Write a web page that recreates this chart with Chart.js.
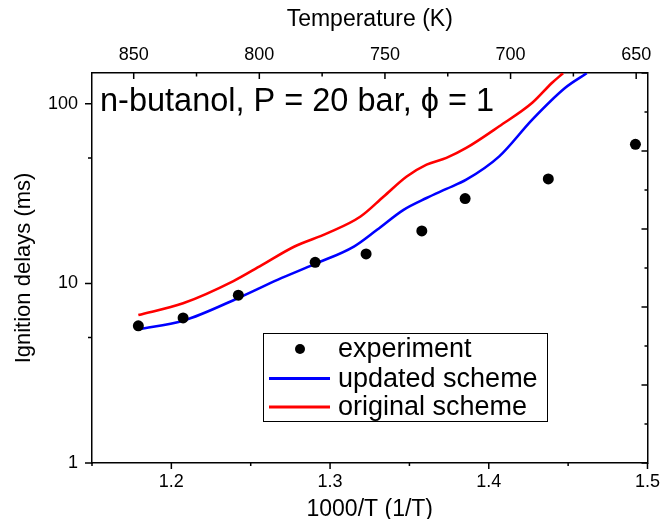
<!DOCTYPE html>
<html>
<head>
<meta charset="utf-8">
<script src="https://cdn.jsdelivr.net/npm/chart.js@4.4.1/dist/chart.umd.min.js"></script>
<style>
  html, body { margin: 0; padding: 0; background: #fff; }
</style>
</head>
<body>
<canvas id="chart" width="668" height="519"></canvas>
<script>
/* global document, Chart */

// Data (x = 1000/T, y = ignition delay in ms)
const expX = [1.1792, 1.2074, 1.2422, 1.2906, 1.3227, 1.3578, 1.3851, 1.4375, 1.4924];
const expY = [5.81, 6.42, 8.60, 13.1, 14.6, 19.6, 29.7, 38.2, 59.5];

const updatedX = [1.1792, 1.2074, 1.2422, 1.2672, 1.2906, 1.3150, 1.3296, 1.3463, 1.3608, 1.3733, 1.3858, 1.4066, 1.4274, 1.4482, 1.4617];
const updatedY = [5.55, 6.20, 8.30, 10.5, 12.85, 16.05, 19.9, 25.7, 29.9, 33.6, 37.8, 51.0, 81.7, 122.9, 148];

const originalX = [1.1792, 1.2074, 1.2391, 1.2567, 1.2776, 1.2984, 1.3192, 1.3338, 1.3483, 1.3608, 1.3733, 1.3858, 1.4066, 1.4274, 1.4399, 1.4468];
const originalY = [6.67, 7.75, 10.3, 12.6, 16.05, 19.06, 23.6, 30.5, 39.4, 45.9, 50.0, 56.8, 75.0, 101.3, 131, 148];

// Tick values
const xTicks = [1.15, 1.2, 1.25, 1.3, 1.35, 1.4, 1.45, 1.5];
const tempTicks = [850, 825, 800, 775, 750, 725, 700, 675, 650];
const yTicks = [1, 5, 10, 50, 100];
const rightTicks = [0, 1, 2, 3, 4, 5, 6, 7, 8, 9, 10];

const seriesLabels = ["experiment", "updated scheme", "original scheme"];
const plotTitle = "n-butanol, P = 20 bar, \u03D5 = 1";

const toPoints = (xs, ys) => xs.map((x, i) => ({x, y: ys[i]}));
const setTicks = values => scale => { scale.ticks = values.map(value => ({value})); };
const isTenth = v => Math.abs(v * 10 - Math.round(v * 10)) < 1e-6;

const FONT = "'Liberation Sans', Arial, sans-serif";
Chart.defaults.font.family = FONT;
Chart.defaults.color = "#000";

// Tick marks: outward on left/bottom, inward on top/right
const tickMarks = {
  id: "tickMarks",
  afterDraw(chart) {
    const {ctx, chartArea: a, scales} = chart;
    ctx.save();
    ctx.strokeStyle = "#000";
    ctx.lineWidth = 1.5;
    ctx.beginPath();
    scales.x.ticks.forEach(t => {
      const p = scales.x.getPixelForValue(t.value);
      const len = isTenth(t.value) ? 6 : 3;
      ctx.moveTo(p, a.bottom); ctx.lineTo(p, a.bottom + len);
    });
    scales.x2.ticks.forEach(t => {
      const p = scales.x2.getPixelForValue(t.value);
      const len = t.value % 50 === 0 ? 6 : 3.5;
      ctx.moveTo(p, a.top); ctx.lineTo(p, a.top + len);
    });
    scales.y.ticks.forEach(t => {
      const p = scales.y.getPixelForValue(t.value);
      const len = [1, 10, 100].includes(t.value) ? 7 : 4;
      ctx.moveTo(a.left, p); ctx.lineTo(a.left - len, p);
    });
    scales.y2.ticks.forEach(t => {
      const p = scales.y2.getPixelForValue(t.value);
      const len = t.value % 2 === 0 ? 6 : 3;
      ctx.moveTo(a.right, p); ctx.lineTo(a.right - len, p);
    });
    ctx.stroke();
    ctx.restore();
  }
};

// Title inside the plot and a framed legend
const annotations = {
  id: "annotations",
  afterDraw(chart) {
    const {ctx} = chart;
    const ds = chart.data.datasets;
    ctx.save();
    ctx.fillStyle = "#000";
    ctx.textBaseline = "alphabetic";
    ctx.font = "32.5px " + FONT;
    ctx.fillText(plotTitle, 100, 111);

    ctx.strokeStyle = "#000";
    ctx.lineWidth = 1;
    ctx.strokeRect(263.5, 333.5, 284, 88);

    const rows = [349, 378.5, 407];
    ctx.font = "27px " + FONT;
    ctx.textBaseline = "middle";
    ds.forEach((d, i) => {
      const y = rows[i];
      if (d.showLine) {
        ctx.strokeStyle = d.borderColor;
        ctx.lineWidth = 3;
        ctx.beginPath();
        ctx.moveTo(269, y);
        ctx.lineTo(330, y);
        ctx.stroke();
      } else {
        ctx.fillStyle = d.pointBackgroundColor;
        ctx.beginPath();
        ctx.arc(300, y, 5, 0, Math.PI * 2);
        ctx.fill();
      }
      ctx.fillStyle = "#000";
      ctx.fillText(d.label, 338, y + 1);
    });
    ctx.restore();
  }
};

const noGrid = {display: false, drawTicks: false};
const frame = {color: "#000", width: 1.5};

new Chart(document.getElementById("chart"), {
  type: "scatter",
  data: {
    datasets: [
      {
        label: seriesLabels[0],
        data: toPoints(expX, expY),
        showLine: false,
        pointRadius: 5.5,
        pointBackgroundColor: "#000",
        pointBorderWidth: 0,
        order: 0
      },
      {
        label: seriesLabels[1],
        data: toPoints(updatedX, updatedY),
        showLine: true,
        borderColor: "#0000FF",
        borderWidth: 2.6,
        pointRadius: 0,
        cubicInterpolationMode: "monotone",
        order: 1
      },
      {
        label: seriesLabels[2],
        data: toPoints(originalX, originalY),
        showLine: true,
        borderColor: "#FF0000",
        borderWidth: 2.6,
        pointRadius: 0,
        cubicInterpolationMode: "monotone",
        order: 1
      }
    ]
  },
  options: {
    responsive: false,
    animation: false,
    layout: {padding: 0},
    plugins: {legend: {display: false}, tooltip: {enabled: false}},
    scales: {
      x: {
        type: "linear",
        position: "bottom",
        min: 1.15,
        max: 1.5,
        afterBuildTicks: setTicks(xTicks),
        afterFit: s => { s.height = 56; },
        grid: noGrid,
        border: frame,
        ticks: {
          autoSkip: false,
          maxRotation: 0,
          padding: 8,
          font: {size: 18},
          callback: v => isTenth(v) && v > 1.16 ? v.toFixed(1) : ""
        },
        title: {display: true, text: "1000/T (1/T)", font: {size: 23}, padding: {top: 0, bottom: -4}}
      },
      x2: {
        type: "linear",
        position: "top",
        reverse: true,
        min: 645.5,
        max: 866.6,
        afterBuildTicks: setTicks(tempTicks),
        afterFit: s => { s.height = 73; },
        grid: noGrid,
        border: frame,
        ticks: {
          autoSkip: false,
          maxRotation: 0,
          padding: 7,
          font: {size: 18},
          callback: v => v % 50 === 0 ? String(v) : ""
        },
        title: {display: true, text: "Temperature (K)", font: {size: 23}, padding: {top: 6, bottom: 0}}
      },
      y: {
        type: "logarithmic",
        position: "left",
        min: 1,
        max: 148.5,
        afterBuildTicks: setTicks(yTicks),
        afterFit: s => { s.width = 92; },
        grid: noGrid,
        border: frame,
        ticks: {
          autoSkip: false,
          padding: 14,
          font: {size: 18},
          callback: v => [1, 10, 100].includes(v) ? String(v) : ""
        },
        title: {display: true, text: "Ignition delays (ms)", font: {size: 22}, padding: {top: 11, bottom: 0}}
      },
      y2: {
        type: "linear",
        position: "right",
        min: 0,
        max: 10,
        afterBuildTicks: setTicks(rightTicks),
        afterFit: s => { s.width = 15; },
        grid: noGrid,
        border: frame,
        ticks: {display: false}
      }
    }
  },
  plugins: [tickMarks, annotations]
});
</script>
</body>
</html>
